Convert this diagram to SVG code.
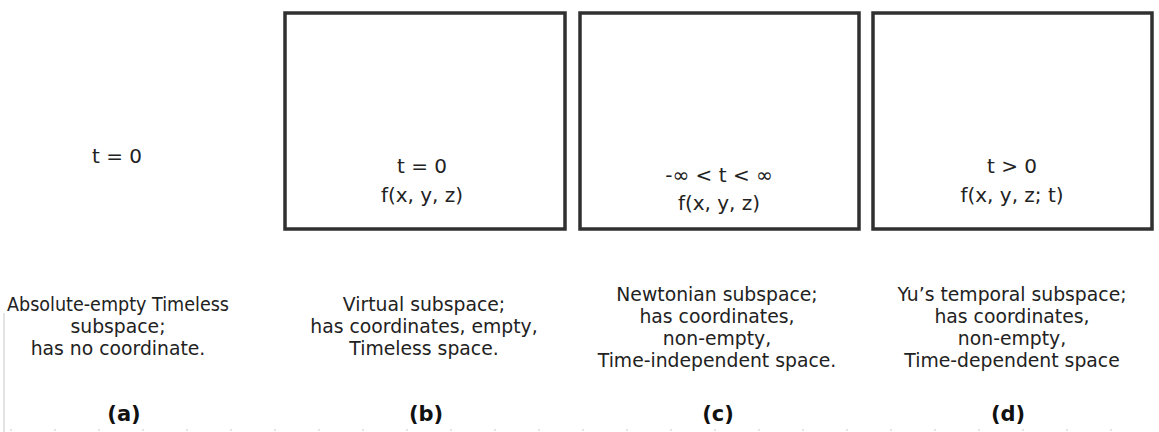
<svg xmlns="http://www.w3.org/2000/svg" width="1159" height="432" viewBox="0 0 1159 432">
  <style>
    .box { fill: #ffffff; stroke: #303030; stroke-width: 3.5; }
    .lbl { font-family: "DejaVu Sans", "Liberation Sans", sans-serif; font-size: 20px; fill: #222; text-anchor: middle; }
    .cap { font-family: "DejaVu Sans", "Liberation Sans", sans-serif; font-size: 18.8px; fill: #222; text-anchor: middle; }
    .tag { font-family: "DejaVu Sans", "Liberation Sans", sans-serif; font-size: 21px; font-weight: bold; fill: #111; text-anchor: middle; }
    .faint { stroke: #e4e4e4; stroke-width: 2; fill: none; }
  </style>
  <rect x="0" y="0" width="1159" height="432" fill="#ffffff"/>
  <g id="artifacts">
    <line class="faint" x1="4" y1="313" x2="4" y2="432"/>
    <line class="faint" x1="10" y1="430" x2="1150" y2="430" stroke-dasharray="2 42"/>
  </g>
  <g id="node-a">
    <text class="lbl" x="117" y="163">t = 0</text>
    <text class="cap" x="118" y="311"><tspan x="118" textLength="222" lengthAdjust="spacingAndGlyphs">Absolute-empty Timeless</tspan><tspan x="118" dy="22">subspace;</tspan><tspan x="118" dy="22">has no coordinate.</tspan></text>
    <text class="tag" x="124" y="421">(a)</text>
  </g>
  <g id="node-b">
    <rect class="box" x="285" y="13" width="280" height="216"/>
    <text class="lbl" x="422" y="173">t = 0<tspan x="422" dy="29">f(x, y, z)</tspan></text>
    <text class="cap" x="424" y="311">Virtual subspace;<tspan x="424" dy="22">has coordinates, empty,</tspan><tspan x="424" dy="22">Timeless space.</tspan></text>
    <text class="tag" x="426" y="421">(b)</text>
  </g>
  <g id="node-c">
    <rect class="box" x="580" y="13" width="279" height="216"/>
    <text class="lbl" x="719" y="182">-∞ &lt; t &lt; ∞</text>
    <text class="lbl" x="719" y="210">f(x, y, z)</text>
    <text class="cap" x="717" y="301">Newtonian subspace;<tspan x="717" dy="22">has coordinates,</tspan><tspan x="717" dy="22">non-empty,</tspan><tspan x="717" dy="22">Time-independent space.</tspan></text>
    <text class="tag" x="718" y="421">(c)</text>
  </g>
  <g id="node-d">
    <rect class="box" x="873" y="13" width="279" height="216"/>
    <text class="lbl" x="1012" y="173">t &gt; 0<tspan x="1012" dy="29">f(x, y, z; t)</tspan></text>
    <text class="cap" x="1012" y="301">Yu’s temporal subspace;<tspan x="1012" dy="22">has coordinates,</tspan><tspan x="1012" dy="22">non-empty,</tspan><tspan x="1012" dy="22">Time-dependent space</tspan></text>
    <text class="tag" x="1008" y="421">(d)</text>
  </g>
  <g id="connectors"></g>
</svg>
